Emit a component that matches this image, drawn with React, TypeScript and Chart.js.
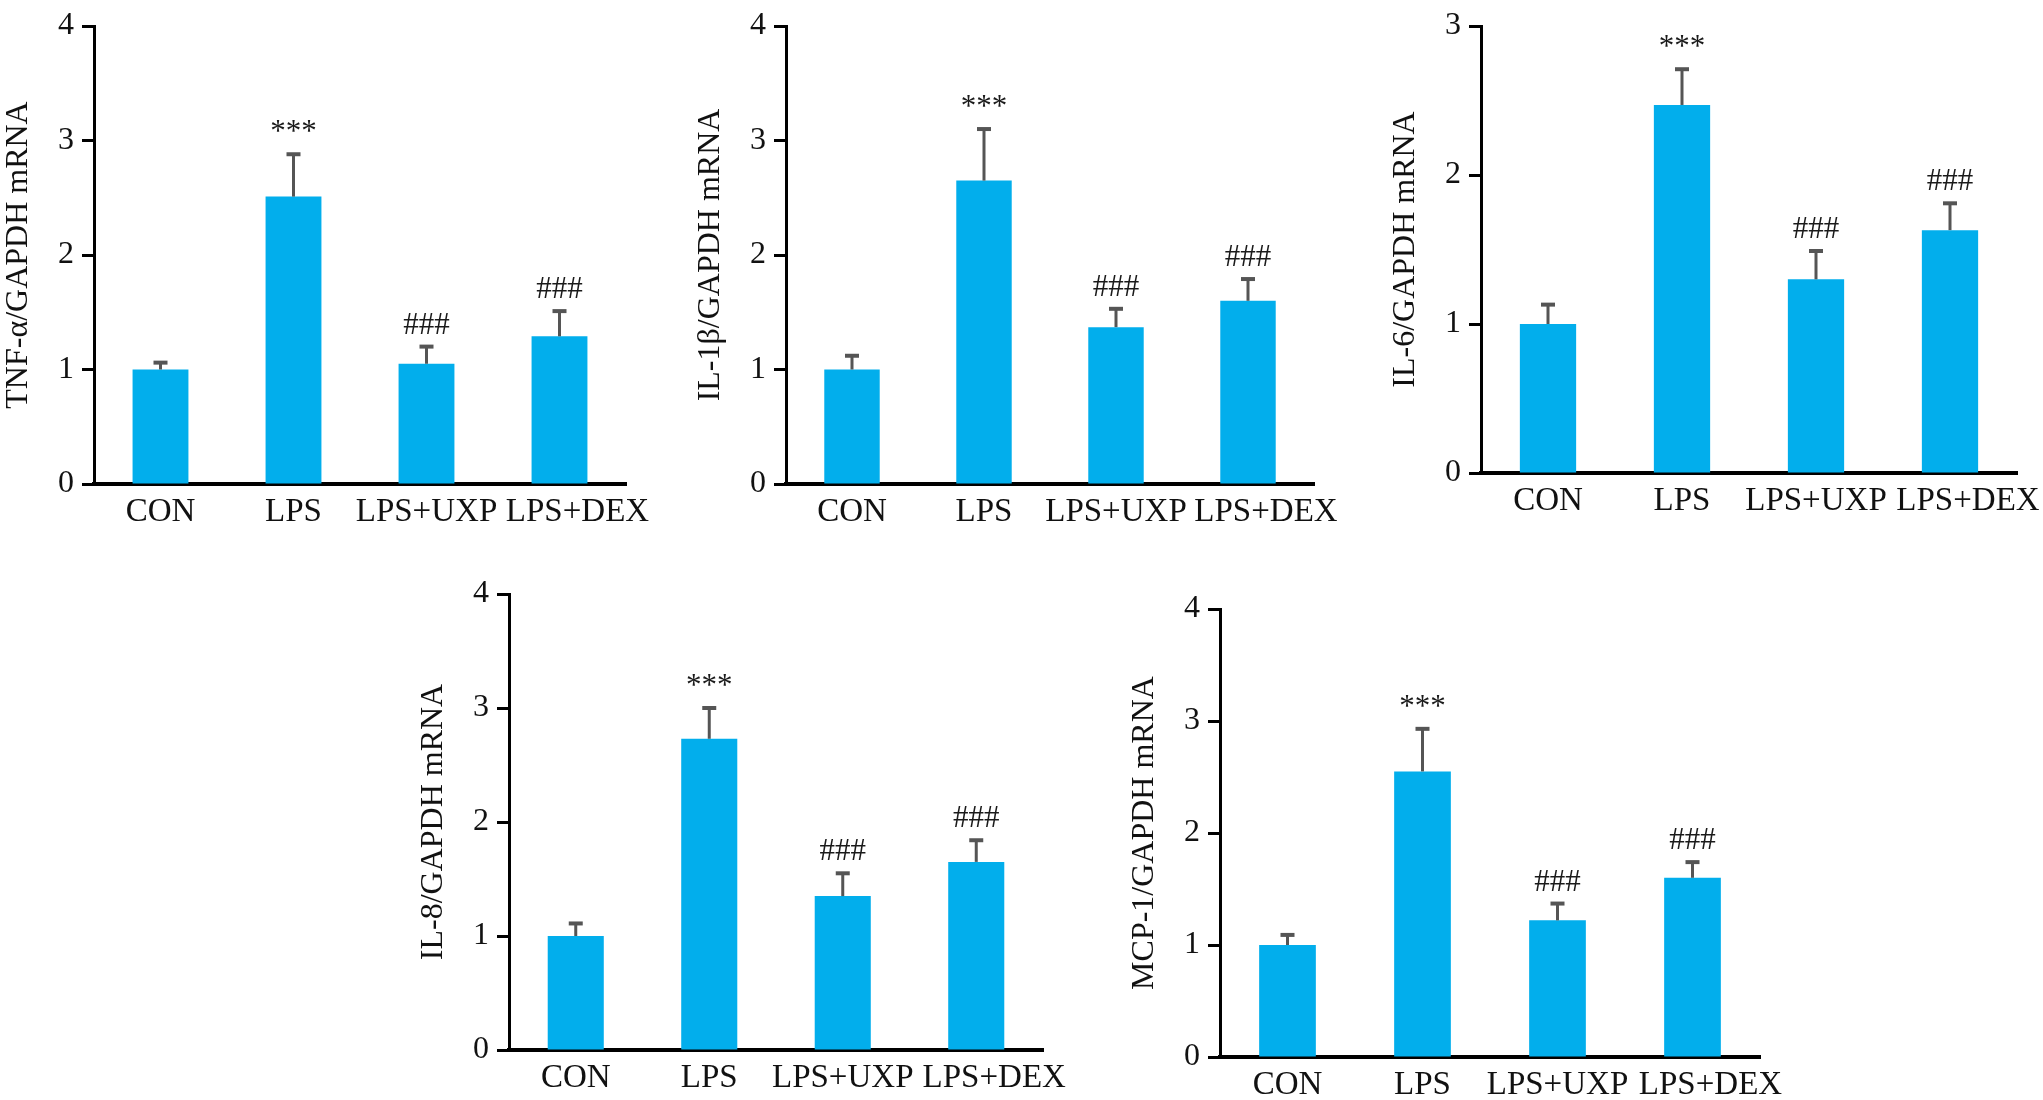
import React, { useEffect, useRef } from 'react';
import { Chart, ChartConfiguration, registerables } from 'chart.js';

Chart.register(...registerables);

// Группы по оси X
const categories = ['CON', 'LPS', 'LPS+UXP', 'LPS+DEX'];
const marks = ['', '***', '###', '###'];

// Средние значения и ошибки (верхний ус)
const tnfMean = [1.0, 2.51, 1.05, 1.29];
const tnfErr = [0.06, 0.37, 0.15, 0.22];

const il1bMean = [1.0, 2.65, 1.37, 1.6];
const il1bErr = [0.12, 0.45, 0.16, 0.19];

const il6Mean = [1.0, 2.47, 1.3, 1.63];
const il6Err = [0.13, 0.24, 0.19, 0.18];

const il8Mean = [1.0, 2.73, 1.35, 1.65];
const il8Err = [0.11, 0.27, 0.2, 0.19];

const mcpMean = [1.0, 2.55, 1.22, 1.6];
const mcpErr = [0.09, 0.38, 0.15, 0.14];

const FONT = "'Liberation Serif', 'Times New Roman', serif";
const BAR_COLOR = '#02AEEC';
const Y_AXIS_W = 96;
const X_AXIS_H = 60;
const PAD_TOP = 30;
const PAD_RIGHT = 50;
// В оригинале последняя подпись сдвинута вправо, чтобы не слипаться с соседней
const LABEL_SHIFT = [0, 0, 0, 18];

const errorBarPlugin = {
  id: 'errorBars',
  afterDatasetsDraw(chart: Chart, _args: unknown, opts: { errors: number[]; marks: string[] }) {
    const { ctx } = chart;
    const y = chart.scales.y;
    const meta = chart.getDatasetMeta(0);
    const values = chart.data.datasets[0].data as number[];
    ctx.save();
    meta.data.forEach((bar: any, i: number) => {
      const top = y.getPixelForValue(values[i] + opts.errors[i]);
      const x = bar.x;
      ctx.strokeStyle = '#555555';
      ctx.lineWidth = 3;
      ctx.beginPath();
      ctx.moveTo(x, bar.y);
      ctx.lineTo(x, top);
      ctx.stroke();
      ctx.lineWidth = 4;
      ctx.beginPath();
      ctx.moveTo(x - 7, top);
      ctx.lineTo(x + 7, top);
      ctx.stroke();
      if (opts.marks[i]) {
        ctx.fillStyle = '#1a1a1a';
        ctx.font = `31px ${FONT}`;
        ctx.textAlign = 'center';
        ctx.textBaseline = 'alphabetic';
        ctx.fillText(opts.marks[i], x, top - 13);
      }
    });
    ctx.restore();
  }
};

// Подписи категорий рисуем сами, чтобы сдвинуть последнюю
const categoryLabelPlugin = {
  id: 'categoryLabels',
  afterDraw(chart: Chart) {
    const { ctx } = chart;
    const xScale = chart.scales.x;
    const labels = chart.data.labels as string[];
    ctx.save();
    ctx.fillStyle = '#111';
    ctx.font = `33px ${FONT}`;
    ctx.textAlign = 'center';
    ctx.textBaseline = 'top';
    labels.forEach((label, i) => {
      ctx.fillText(label, xScale.getPixelForTick(i) + LABEL_SHIFT[i], xScale.top + 12);
    });
    ctx.restore();
  }
};

interface PanelProps {
  title: string;
  means: number[];
  errors: number[];
  max: number;
  axisX: number;   // x оси Y на странице
  axisRight: number;
  areaTop: number;
  areaBottom: number;
}

const BarPanel: React.FC<PanelProps> = ({ title, means, errors, max, axisX, axisRight, areaTop, areaBottom }) => {
  const canvasRef = useRef<HTMLCanvasElement>(null);

  useEffect(() => {
    if (!canvasRef.current) return;
    const config: ChartConfiguration = {
      type: 'bar',
      data: {
        labels: categories,
        datasets: [{
          data: means,
          backgroundColor: BAR_COLOR,
          borderWidth: 0,
          barPercentage: 0.42,
          categoryPercentage: 1
        }]
      },
      options: {
        responsive: true,
        maintainAspectRatio: false,
        animation: false,
        layout: { padding: { top: PAD_TOP, right: PAD_RIGHT, left: 0, bottom: 0 } },
        plugins: {
          legend: { display: false },
          tooltip: { enabled: false },
          errorBars: { errors, marks }
        } as any,
        scales: {
          x: {
            afterFit: (scale: any) => { scale.height = X_AXIS_H; },
            grid: { display: false, drawTicks: false },
            border: { display: true, color: '#000', width: 4 },
            ticks: { display: false }
          },
          y: {
            min: 0,
            max,
            afterFit: (scale: any) => { scale.width = Y_AXIS_W; },
            grid: {
              drawOnChartArea: false,
              drawTicks: true,
              tickLength: 12,
              tickWidth: 3,
              tickColor: '#000'
            },
            border: { display: true, color: '#000', width: 3 },
            ticks: {
              stepSize: 1,
              color: '#111',
              font: { family: FONT, size: 32 },
              padding: 8
            },
            title: {
              display: true,
              text: title,
              color: '#111',
              font: { family: FONT, size: 32 },
              padding: { top: 1, bottom: 0 }
            }
          }
        }
      },
      plugins: [errorBarPlugin as any, categoryLabelPlugin as any]
    };
    const chart = new Chart(canvasRef.current, config);
    return () => chart.destroy();
  }, [title, means, errors, max]);

  const left = axisX - Y_AXIS_W;
  const top = areaTop - PAD_TOP;
  const width = Y_AXIS_W + (axisRight - axisX) + PAD_RIGHT;
  const height = PAD_TOP + (areaBottom - areaTop) + X_AXIS_H;

  return (
    <div style={{ position: 'absolute', left, top, width, height }}>
      <canvas ref={canvasRef}></canvas>
    </div>
  );
};

export default function App() {
  return (
    <div style={{ position: 'absolute', left: 0, top: 0, width: 2043, height: 1100, overflow: 'hidden', background: '#fff' }}>
      <BarPanel title="TNF-α/GAPDH mRNA" means={tnfMean} errors={tnfErr} max={4}
        axisX={94} axisRight={626} areaTop={26} areaBottom={484} />
      <BarPanel title="IL-1β/GAPDH mRNA" means={il1bMean} errors={il1bErr} max={4}
        axisX={786} axisRight={1314} areaTop={26} areaBottom={484} />
      <BarPanel title="IL-6/GAPDH mRNA" means={il6Mean} errors={il6Err} max={3}
        axisX={1481} axisRight={2017} areaTop={26} areaBottom={473} />
      <BarPanel title="IL-8/GAPDH mRNA" means={il8Mean} errors={il8Err} max={4}
        axisX={509} axisRight={1043} areaTop={594} areaBottom={1050} />
      <BarPanel title="MCP-1/GAPDH mRNA" means={mcpMean} errors={mcpErr} max={4}
        axisX={1220} axisRight={1760} areaTop={609} areaBottom={1057} />
    </div>
  );
}
